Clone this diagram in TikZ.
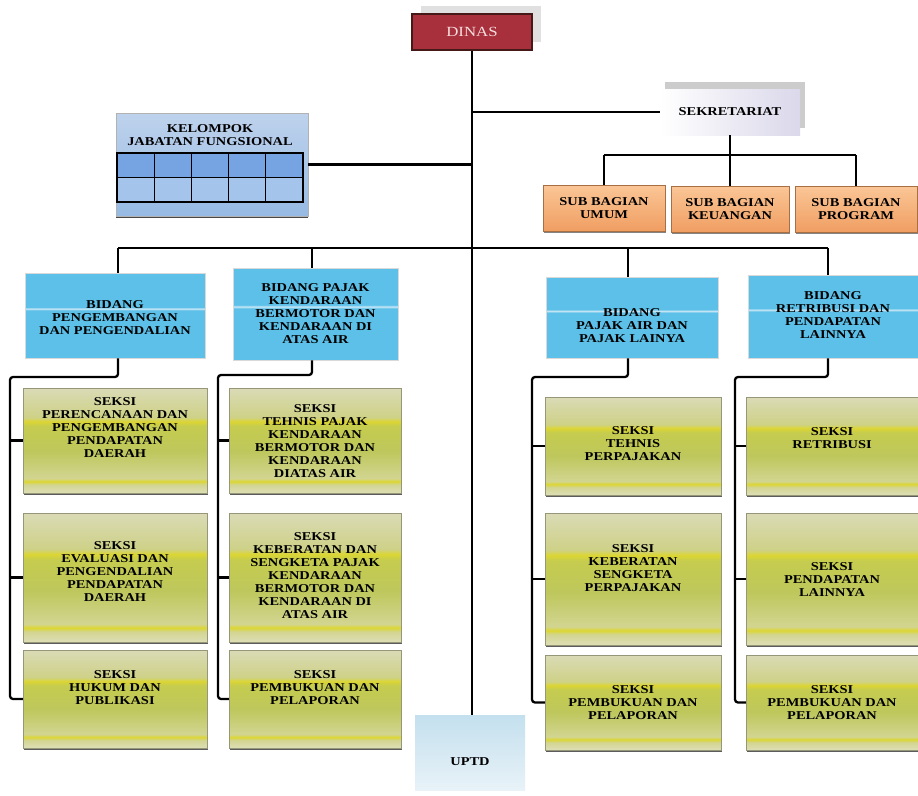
\documentclass[tikz,border=0pt]{standalone}
\usepackage{fontspec}
\setmainfont{Liberation Serif}[FakeStretch=1.2]
\usetikzlibrary{shadows}
\definecolor{dinasred}{RGB}{168,48,60}
\definecolor{dinasedge}{RGB}{70,25,25}
\definecolor{bidangblue}{RGB}{92,192,232}
\definecolor{bidangline}{RGB}{205,232,246}
\definecolor{subtop}{RGB}{250,198,150}
\definecolor{subbot}{RGB}{240,158,98}
\definecolor{sA}{RGB}{222,222,182}
\definecolor{sB}{RGB}{210,213,145}
\definecolor{sY}{RGB}{220,214,50}
\definecolor{sG}{RGB}{190,199,92}
\definecolor{sG2}{RGB}{198,204,78}
\definecolor{sC}{RGB}{206,209,135}
\definecolor{sT}{RGB}{218,219,182}
\definecolor{kelatop}{RGB}{190,210,236}
\definecolor{kelabot}{RGB}{150,186,228}
\definecolor{kelcellA}{RGB}{118,164,226}
\definecolor{kelcellB}{RGB}{165,196,236}
\definecolor{sekretR}{RGB}{218,216,234}
\definecolor{uptdA}{RGB}{196,224,238}
\definecolor{uptdB}{RGB}{232,242,248}
\definecolor{edgegray}{RGB}{150,150,120}
\pgfdeclareverticalshading{seksishade}{100bp}{color(0bp)=(sA); color(25bp)=(sA); color(29bp)=(sB); color(30.5bp)=(sY); color(32bp)=(sB); color(45bp)=(sG); color(57bp)=(sG2); color(59bp)=(sY); color(61bp)=(sC); color(75bp)=(sT); color(100bp)=(sT)}
\pgfdeclareverticalshading{bidangshade}{100bp}{color(0bp)=(bidangblue); color(53bp)=(bidangblue); color(54bp)=(bidangline); color(55bp)=(bidangblue); color(100bp)=(bidangblue)}
\begin{document}
\begin{tikzpicture}[x=1pt,y=-1pt,
  every node/.style={inner sep=0pt, align=center, font=\fontsize{12}{13}\selectfont\bfseries},
  conn/.style={line width=2.3pt, black},
  rail/.style={line width=2.3pt, black, rounded corners=3pt},
  dinasbox/.style={rectangle, draw=dinasedge, line width=1.4pt, fill=dinasred, text={rgb,255:red,245;green,222;blue,222},
     font=\fontsize{14}{16}\selectfont,
     drop shadow={shadow xshift=9pt, shadow yshift=8pt, fill=black!12, opacity=1}},
  sekbox/.style={rectangle, left color=white, right color=sekretR,
     drop shadow={shadow xshift=5pt, shadow yshift=7pt, fill=black!20, opacity=1}},
  subbox/.style={rectangle, draw=subbot!70!black, line width=0.4pt, top color=subtop, bottom color=subbot,
     drop shadow={shadow xshift=0.6pt, shadow yshift=-1.6pt, fill=black!60, opacity=0.8}},
  kelbox/.style={rectangle, draw=black!30, line width=0.4pt, top color=kelatop, bottom color=kelabot,
     drop shadow={shadow xshift=0pt, shadow yshift=-1.8pt, fill=black!80, opacity=0.9}},
  bidbox/.style={rectangle, draw=black!15, line width=0.6pt, shade, shading=bidangshade},
  seksibox/.style={rectangle, draw=edgegray, line width=0.4pt, shade, shading=seksishade,
     drop shadow={shadow xshift=0.6pt, shadow yshift=-1.8pt, fill=black!75, opacity=0.85}},
  uptdbox/.style={rectangle, top color=uptdA, bottom color=uptdB},
]
\useasboundingbox (0,0) rectangle (918,795);
\fill[white] (0,0) rectangle (918,795);

% top level
\node[dinasbox, minimum width=120, minimum height=36] (dinas) at (472,32) {DINAS};
\node[sekbox, minimum width=140, minimum height=46] (sek) at (730,112) {SEKRETARIAT};
\node[subbox, minimum width=122, minimum height=46] (sb1) at (604,208) {SUB BAGIAN\\UMUM};
\node[subbox, minimum width=118, minimum height=46] (sb2) at (730,209) {SUB BAGIAN\\KEUANGAN};
\node[subbox, minimum width=122, minimum height=46] (sb3) at (856,209) {SUB BAGIAN\\PROGRAM};

% kelompok jabatan fungsional
\node[kelbox, minimum width=192, minimum height=103] (kel) at (212,164.5) {};
\node (kelt) at (210,135.5) {KELOMPOK\\JABATAN FUNGSIONAL};
\fill[kelcellA] (117,153) rectangle (303,177.5);
\fill[kelcellB] (117,177.5) rectangle (303,202);
\draw[line width=1.3pt] (117,153) rectangle (303,202);
\draw[line width=1.3pt] (117,177.5) -- (303,177.5);
\foreach \gx in {154.2,191.4,228.6,265.8} \draw[line width=1.3pt] (\gx,153) -- (\gx,202);

% bidang
\node[bidbox, minimum width=180, minimum height=85] (b1) at (115,315.5) {};
\node (b1t) at (115,318) {BIDANG\\PENGEMBANGAN\\DAN PENGENDALIAN};
\node[bidbox, minimum width=165, minimum height=92] (b2) at (315.5,314) {};
\node (b2t) at (315.5,314) {BIDANG PAJAK\\KENDARAAN\\BERMOTOR DAN\\KENDARAAN DI\\ATAS AIR};
\node[bidbox, minimum width=172, minimum height=81] (b3) at (632,317.5) {};
\node (b3t) at (632,326) {BIDANG\\PAJAK AIR DAN\\PAJAK LAINYA};
\node[bidbox, minimum width=170, minimum height=83] (b4) at (833,316.5) {};
\node (b4t) at (833,315) {BIDANG\\RETRIBUSI DAN\\PENDAPATAN\\LAINNYA};

% seksi column 1
\node[seksibox, minimum width=184, minimum height=105] (s11) at (115,440.5) {};
\node (s11t) at (115,428) {SEKSI\\PERENCANAAN DAN\\PENGEMBANGAN\\PENDAPATAN\\DAERAH};
\node[seksibox, minimum width=184, minimum height=129] (s12) at (115,577.5) {};
\node (s12t) at (115,572) {SEKSI\\EVALUASI DAN\\PENGENDALIAN\\PENDAPATAN\\DAERAH};
\node[seksibox, minimum width=184, minimum height=98] (s13) at (115,699) {};
\node (s13t) at (115,688) {SEKSI\\HUKUM DAN\\PUBLIKASI};
% seksi column 2
\node[seksibox, minimum width=172, minimum height=105] (s21) at (315,440.5) {};
\node (s21t) at (315,441) {SEKSI\\TEHNIS PAJAK\\KENDARAAN\\BERMOTOR DAN\\KENDARAAN\\DIATAS AIR};
\node[seksibox, minimum width=172, minimum height=129] (s22) at (315,577.5) {};
\node (s22t) at (315,576) {SEKSI\\KEBERATAN DAN\\SENGKETA PAJAK\\KENDARAAN\\BERMOTOR DAN\\KENDARAAN DI\\ATAS AIR};
\node[seksibox, minimum width=172, minimum height=98] (s23) at (315,699) {};
\node (s23t) at (315,688) {SEKSI\\PEMBUKUAN DAN\\PELAPORAN};
% seksi column 3
\node[seksibox, minimum width=176, minimum height=98] (s31) at (633,446) {};
\node (s31t) at (633,444) {SEKSI\\TEHNIS\\PERPAJAKAN};
\node[seksibox, minimum width=176, minimum height=132] (s32) at (633,579) {};
\node (s32t) at (633,568) {SEKSI\\KEBERATAN\\SENGKETA\\PERPAJAKAN};
\node[seksibox, minimum width=176, minimum height=95] (s33) at (633,702.5) {};
\node (s33t) at (633,703) {SEKSI\\PEMBUKUAN DAN\\PELAPORAN};
% seksi column 4
\node[seksibox, minimum width=172, minimum height=98] (s41) at (832,446) {};
\node (s41t) at (832,438) {SEKSI\\RETRIBUSI};
\node[seksibox, minimum width=172, minimum height=132] (s42) at (832,579) {};
\node (s42t) at (832,580) {SEKSI\\PENDAPATAN\\LAINNYA};
\node[seksibox, minimum width=172, minimum height=95] (s43) at (832,702.5) {};
\node (s43t) at (832,703) {SEKSI\\PEMBUKUAN DAN\\PELAPORAN};

% UPTD
\node[uptdbox, minimum width=110, minimum height=75] (uptd) at (470,752.5) {};
\node (uptdt) at (470,762) {UPTD};

% connectors
\draw[conn] (dinas.south) -- (dinas.south |- uptd.north);
\draw[conn] (sek.west) -- (sek.west -| dinas.south);
\draw[conn] (kel.east) -- (kel.east -| dinas.south);

\coordinate (subbar) at (0,155);
\draw[conn] (sek.south) -- (sek.south |- subbar);
\draw[conn] (sb1.north |- subbar) -- (sb3.north |- subbar);
\draw[conn] (sb1.north |- subbar) -- (sb1.north);
\draw[conn] (sb2.north |- subbar) -- (sb2.north);
\draw[conn] (sb3.north |- subbar) -- (sb3.north);

\coordinate (j1) at (118,248);
\coordinate (j2) at (312,248);
\coordinate (j3) at (628,248);
\coordinate (j4) at (828,248);
\draw[conn] (j1) -- (j4);
\draw[conn] (j1) -- (j1 |- b1.north);
\draw[conn] (j2) -- (j2 |- b2.north);
\draw[conn] (j3) -- (j3 |- b3.north);
\draw[conn] (j4) -- (j4 |- b4.north);

\coordinate (r1) at (10,377);
\coordinate (r2) at (218,375);
\coordinate (r3) at (532,377);
\coordinate (r4) at (735,377);
\draw[rail] (j1 |- b1.south) |- (r1) |- (s13.west);
\draw[rail] (j2 |- b2.south) |- (r2) |- (s23.west);
\draw[rail] (j3 |- b3.south) |- (r3) |- (s33.west);
\draw[rail] (j4 |- b4.south) |- (r4) |- (s43.west);
\draw[conn] (r1 |- s11.west) -- (s11.west);
\draw[conn] (r1 |- s12.west) -- (s12.west);
\draw[conn] (r2 |- s21.west) -- (s21.west);
\draw[conn] (r2 |- s22.west) -- (s22.west);
\draw[conn] (r3 |- s31.west) -- (s31.west);
\draw[conn] (r3 |- s32.west) -- (s32.west);
\draw[conn] (r4 |- s41.west) -- (s41.west);
\draw[conn] (r4 |- s42.west) -- (s42.west);
\end{tikzpicture}
\end{document}
